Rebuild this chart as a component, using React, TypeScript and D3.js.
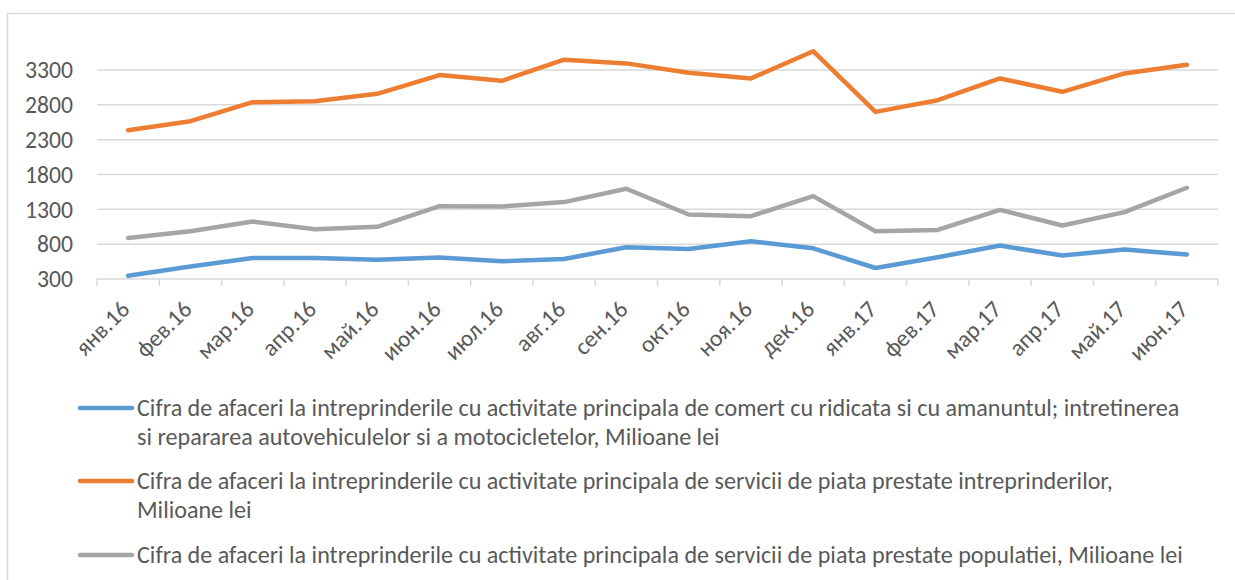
import { useEffect, useRef } from 'react';
import * as d3 from 'd3';

const CATEGORIES = [
  'янв.16', 'фев.16', 'мар.16', 'апр.16', 'май.16', 'июн.16', 'июл.16', 'авг.16', 'сен.16',
  'окт.16', 'ноя.16', 'дек.16', 'янв.17', 'фев.17', 'мар.17', 'апр.17', 'май.17', 'июн.17',
];

const TRADE = [348, 478, 602, 602, 578, 607, 554, 588, 756, 732, 842, 741, 458, 612, 780, 636, 722, 650];
const BUSINESS = [2435, 2565, 2838, 2853, 2958, 3227, 3145, 3448, 3395, 3261, 3179, 3570, 2699, 2867, 3179, 2987, 3251, 3376];
const POPULATION = [890, 986, 1125, 1015, 1049, 1346, 1341, 1404, 1596, 1226, 1202, 1490, 986, 1005, 1293, 1068, 1260, 1610];

const Y_TICKS = [300, 800, 1300, 1800, 2300, 2800, 3300];

const SERIES = [
  {
    values: TRADE,
    color: '#5b9bd5',
    label: [
      'Cifra de afaceri la intreprinderile cu activitate principala de comert cu ridicata si cu amanuntul; intretinerea',
      'si repararea autovehiculelor si a motocicletelor, Milioane lei',
    ],
  },
  {
    values: BUSINESS,
    color: '#ed7d31',
    label: [
      'Cifra de afaceri la intreprinderile cu activitate principala de servicii de piata prestate intreprinderilor,',
      'Milioane lei',
    ],
  },
  {
    values: POPULATION,
    color: '#a5a5a5',
    label: ['Cifra de afaceri la intreprinderile cu activitate principala de servicii de piata prestate populatiei, Milioane lei'],
  },
];

const W = 1235;
const H = 580;
const FONT = 'Carlito, Lato, sans-serif';
const TEXT = '#595959';
const GRID = '#d9d9d9';

// font size that makes `text` come out `target` px wide
function fitSize(text: string, target: number) {
  const ctx = document.createElement('canvas').getContext('2d');
  if (!ctx) return 18;
  ctx.font = `100px ${FONT}`;
  return (100 * target) / ctx.measureText(text).width;
}

export default function App() {
  const svgRef = useRef<SVGSVGElement>(null);

  useEffect(() => {
    if (!svgRef.current) return;
    const svg = d3.select(svgRef.current);
    svg.selectAll('*').remove();

    const left = 97, right = 1218, bottom = 279;
    const x = d3.scaleBand().domain(CATEGORIES).range([left, right]);
    const y = d3.scaleLinear().domain([300, 3700]).range([bottom, bottom - 3400 * (209 / 3000)]);

    const tickSize = fitSize('3300', 48);
    const legendSize = fitSize(SERIES[0].label[0], 1043);

    // chart frame
    svg.append('rect')
      .attr('x', 7.5).attr('y', 13.5)
      .attr('width', W + 20).attr('height', H + 20)
      .attr('fill', '#fff')
      .attr('stroke', GRID).attr('stroke-width', 1.5);

    // gridlines
    svg.append('g').selectAll('line')
      .data(Y_TICKS.slice(1))
      .join('line')
      .attr('x1', left).attr('x2', right)
      .attr('y1', (d) => y(d)).attr('y2', (d) => y(d))
      .attr('stroke', GRID).attr('stroke-width', 1.5);

    // y labels
    svg.append('g').selectAll('text')
      .data(Y_TICKS)
      .join('text')
      .attr('x', 73).attr('y', (d) => y(d))
      .attr('dy', '0.35em')
      .attr('text-anchor', 'end')
      .attr('font-family', FONT).attr('font-size', tickSize)
      .attr('fill', TEXT)
      .text((d) => d);

    // x axis line + ticks at band edges
    svg.append('line')
      .attr('x1', left).attr('x2', right)
      .attr('y1', bottom).attr('y2', bottom)
      .attr('stroke', GRID).attr('stroke-width', 1.5);
    const edges = CATEGORIES.map((c) => x(c) as number).concat(right);
    svg.append('g').selectAll('line')
      .data(edges)
      .join('line')
      .attr('x1', (d) => d).attr('x2', (d) => d)
      .attr('y1', bottom).attr('y2', bottom + 7)
      .attr('stroke', GRID).attr('stroke-width', 1.5);

    // x labels, rotated
    svg.append('g').selectAll('text')
      .data(CATEGORIES)
      .join('text')
      .attr('transform', (d) => `translate(${(x(d) as number) + x.bandwidth() / 2 - 3},${bottom + 26}) rotate(-45)`)
      .attr('dy', '0.35em')
      .attr('text-anchor', 'end')
      .attr('font-family', FONT).attr('font-size', tickSize)
      .attr('fill', TEXT)
      .text((d) => d);

    // series lines
    const cx = (i: number) => (x(CATEGORIES[i]) as number) + x.bandwidth() / 2;
    SERIES.forEach((s) => {
      const line = d3.line<number>().x((_, i) => cx(i)).y((d) => y(d));
      svg.append('path')
        .datum(s.values)
        .attr('d', line)
        .attr('fill', 'none')
        .attr('stroke', s.color)
        .attr('stroke-width', 4.5)
        .attr('stroke-linecap', 'round')
        .attr('stroke-linejoin', 'round');
    });

    // legend
    const entryTops = [408, 481, 555];
    SERIES.forEach((s, i) => {
      const ly = entryTops[i];
      svg.append('line')
        .attr('x1', 80).attr('x2', 132)
        .attr('y1', ly).attr('y2', ly)
        .attr('stroke', s.color).attr('stroke-width', 4.5)
        .attr('stroke-linecap', 'round');
      s.label.forEach((t, li) => {
        svg.append('text')
          .attr('x', 137).attr('y', ly + li * 29)
          .attr('dy', '0.35em')
          .attr('font-family', FONT).attr('font-size', legendSize)
          .attr('fill', TEXT)
          .text(t);
      });
    });
  }, []);

  return (
    <svg
      ref={svgRef}
      width={W}
      height={H}
      style={{ position: 'fixed', left: 0, top: 0, display: 'block', background: '#fff' }}
    />
  );
}
